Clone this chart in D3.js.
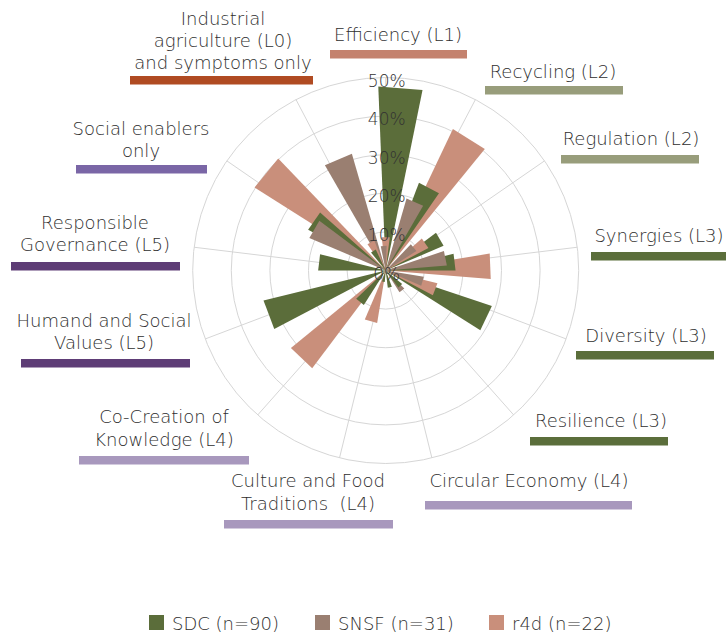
<!DOCTYPE html>
<html><head><meta charset="utf-8">
<script src="https://cdn.jsdelivr.net/npm/d3@7"></script>
<style>
body{margin:0;background:#fff;}
svg{display:block;font-family:"DejaVu Sans",sans-serif;}
text{font-weight:200;}
</style></head><body>
<svg id="chart" width="726" height="637"></svg>
<script>
// ---- data ----
const categories = ["Efficiency (L1)", "Recycling (L2)", "Regulation (L2)", "Synergies (L3)", "Diversity (L3)", "Resilience (L3)", "Circular Economy (L4)", "Culture and Food Traditions (L4)", "Co-Creation of Knowledge (L4)", "Humand and Social Values (L5)", "Responsible Governance (L5)", "Social enablers only", "Industrial agriculture (L0) and symptoms only"];
const labelLines = [["Efficiency (L1)"], ["Recycling (L2)"], ["Regulation (L2)"], ["Synergies (L3)"], ["Diversity (L3)"], ["Resilience (L3)"], ["Circular Economy (L4)"], ["Culture and Food", "Traditions  (L4)"], ["Co-Creation of", "Knowledge (L4)"], ["Humand and Social", "Values (L5)"], ["Responsible", "Governance (L5)"], ["Social enablers", "only"], ["Industrial", "agriculture (L0)", "and symptoms only"]];
const seriesNames = ["SDC (n=90)", "SNSF (n=31)", "r4d (n=22)"];
const sdc  = [47.7, 24.3, 16.3, 18.1, 29.0, 5.5, 4.5, 3.0, 10.6, 32.6, 17.5, 22.7, 6.0];
const snsf = [6.4, 19.4, 9.4, 15.9, 10.0, 6.7, 0, 0, 0, 0, 0, 21.5, 31.5];
const r4d  = [8.7, 40.6, 12.5, 27.3, 13.8, 0, 0, 13.8, 31.7, 0, 0, 40.2, 8.3];
const radialTicks = [0, 10, 20, 30, 40, 50];

// ---- styles / layout ----
const seriesColors = ["#5b6d3a", "#9a7f71", "#c98f7b"];
const labelLayout = [
  {tx:398, ty:[41], bx0:330, bx1:467, by:50, c:"#c4826e"},
  {tx:553, ty:[78], bx0:485, bx1:623, by:86, c:"#989d7b"},
  {tx:631, ty:[145], bx0:561, bx1:699, by:155, c:"#989d7b"},
  {tx:659, ty:[242], bx0:591, bx1:727, by:252, c:"#5b6e3b"},
  {tx:646, ty:[342], bx0:576, bx1:714, by:351, c:"#5b6e3b"},
  {tx:601, ty:[427], bx0:530, bx1:668, by:437, c:"#5b6e3b"},
  {tx:529, ty:[487], bx0:425, bx1:632, by:501, c:"#a898bd"},
  {tx:308, ty:[487,510], bx0:224, bx1:393, by:520, c:"#a898bd"},
  {tx:164, ty:[423,446], bx0:79, bx1:249, by:456, c:"#a898bd"},
  {tx:104, ty:[327,349], bx0:21, bx1:190, by:359, c:"#5e3d76"},
  {tx:95, ty:[229,251], bx0:11, bx1:180, by:262, c:"#5e3d76"},
  {tx:141, ty:[135,157], bx0:76, bx1:207, by:165, c:"#7a66a6"},
  {tx:223, ty:[25,47,69], bx0:130, bx1:313, by:76, c:"#b04b22"}
];

const svg = d3.select("#chart");
const cx = 385.7, cy = 270.5, R = 193;
const n = categories.length;
const r = d3.scaleLinear().domain([0, 50]).range([0, R]);
const ang = d3.scaleLinear().domain([0, n]).range([0, 2 * Math.PI]);
const sector = ang(1) - ang(0);
const barW = sector / 2, step = sector / 6;

const g = svg.append("g").attr("transform", `translate(${cx},${cy})`);
// grid
g.selectAll("circle.ring").data(radialTicks.filter(t => t > 0)).join("circle")
  .attr("r", d => r(d)).attr("fill", "none").attr("stroke", "#d6d6d6").attr("stroke-width", 1);
g.selectAll("line.spoke").data(d3.range(n)).join("line")
  .attr("x1", 0).attr("y1", 0)
  .attr("x2", i => R * Math.sin(ang(i))).attr("y2", i => -R * Math.cos(ang(i)))
  .attr("stroke", "#d6d6d6").attr("stroke-width", 1);

// bars
const allSeries = [sdc, snsf, r4d];
const bars = [];
categories.forEach((cat, i) => {
  const grp = allSeries.map((arr, s) => ({s, v: arr[i], i})).filter(d => d.v > 0)
    .sort((a, b) => a.v - b.v);
  grp.forEach((d, j) => { d.a = ang(i) + (j - (grp.length - 1) / 2) * step; });
  grp.slice().sort((a, b) => b.v - a.v).forEach(d => bars.push(d));
});
const radial = d3.lineRadial().angle(p => p[0]).radius(p => p[1]);
g.selectAll("path.bar").data(bars).join("path")
  .attr("d", d => radial([[d.a, 0], [d.a - barW / 2, r(d.v)], [d.a + barW / 2, r(d.v)]]) + "Z")
  .attr("fill", d => seriesColors[d.s]);

// radial tick labels
g.selectAll("text.tick").data(radialTicks).join("text")
  .attr("x", 1).attr("y", d => -r(d) + 9)
  .attr("text-anchor", "middle").attr("font-size", 17).attr("fill", "#333")
  .text(d => d + "%");

// category labels
labelLayout.forEach((L, i) => {
  svg.append("rect").attr("x", L.bx0).attr("y", L.by).attr("width", L.bx1 - L.bx0).attr("height", 8.5).attr("fill", L.c);
  labelLines[i].forEach((line, k) => {
    svg.append("text").attr("x", L.tx).attr("y", L.ty[k]).attr("text-anchor", "middle")
      .attr("font-size", 18).attr("fill", "#2e2e2e").style("white-space", "pre").text(line);
  });
});

// legend
const legX = [149, 315, 489];
seriesNames.forEach((name, s) => {
  svg.append("rect").attr("x", legX[s]).attr("y", 615).attr("width", 15).attr("height", 15).attr("fill", seriesColors[s]);
  svg.append("text").attr("x", legX[s] + 23).attr("y", 630).attr("font-size", 18).attr("fill", "#2e2e2e").text(name);
});
</script>
</body></html>
